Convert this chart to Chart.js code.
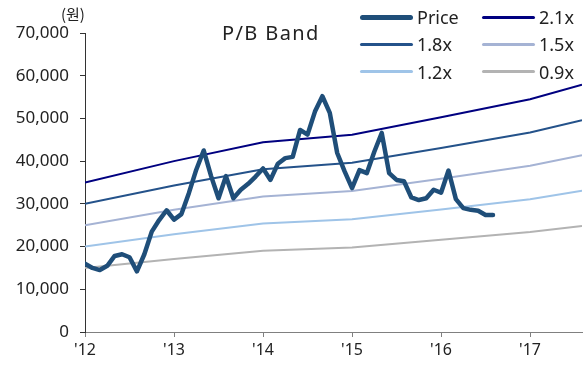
<!DOCTYPE html>
<html>
<head>
<meta charset="utf-8">
<script src="https://cdn.jsdelivr.net/npm/chart.js@4.4.1/dist/chart.umd.min.js"></script>
<style>
    body { margin: 0; background: #fff; }
    #wrap { position: relative; width: 584px; height: 365px; font-family: "Noto Sans", sans-serif; color: #222; }
    #pbChart { position: absolute; left: 0; top: 0; }
    .title { position: absolute; left: 222px; top: 19px; font-size: 20px; letter-spacing: 1.4px; }
    .unit { position: absolute; left: 61px; top: 3px; font-size: 15px; font-family: "Noto Sans CJK KR", sans-serif; }
    .legend-item { position: absolute; display: flex; align-items: center; height: 24px; font-size: 18px; }
    .legend-item span.swatch { display: inline-block; width: 53px; margin-right: 4px; border-radius: 3px; }
</style>
</head>
<body>
<div id="wrap">
    <canvas id="pbChart" width="584" height="365"></canvas>
    <div class="title">P/B Band</div>
    <div class="unit">(원)</div>
    <div id="legend"></div>
</div>
<script>
// x 축은 2012년 1월 = 0 인 월 단위
const yearTicks = ["'12", "'13", "'14", "'15", "'16", "'17"];

// 월별 주가 (2012.01 ~ 2016.08)
const priceValues = [
    16000, 15000, 14500, 15500, 17800, 18200, 17500, 14200, 18200, 23500, 26200, 28500,
    26300, 27600, 32500, 38000, 42500, 36500, 31300, 36500, 31300, 33300, 34700, 36400,
    38300, 35600, 39400, 40700, 41000, 47300, 46200, 51600, 55200, 51300, 41900, 37600,
    33700, 37900, 37200, 42200, 46600, 37200, 35600, 35300, 31500, 30900, 31300, 33300,
    32600, 37800, 31100, 29000, 28600, 28400, 27400, 27400
];

// 밴드 기준 시점 (월)
const bandMonths = [0, 12, 24, 36, 48, 60, 67];
const band21 = [35000, 40000, 44400, 46200, 50300, 54500, 57900];
const band18 = [30000, 34300, 38100, 39600, 43100, 46700, 49600];
const band15 = [25000, 28600, 31700, 33000, 35900, 38900, 41400];
const band12 = [20000, 22900, 25400, 26400, 28700, 31100, 33100];
const band09 = [15000, 17100, 19000, 19800, 21600, 23400, 24800];

const toPoints = (xs, ys) => ys.map((y, i) => ({ x: xs[i], y: y }));
const priceMonths = priceValues.map((v, i) => i);

function bandSet(label, values, color) {
    return {
        label: label,
        data: toPoints(bandMonths, values),
        borderColor: color,
        borderWidth: 2,
        pointRadius: 0,
        fill: false
    };
}

const ctx = document.getElementById('pbChart').getContext('2d');
const pbChart = new Chart(ctx, {
    type: 'line',
    data: {
        datasets: [{
            label: 'Price',
            data: toPoints(priceMonths, priceValues),
            borderColor: '#1f4e79',
            borderWidth: 4.5,
            borderJoinStyle: 'round',
            borderCapStyle: 'round',
            pointRadius: 0,
            fill: false
        },
            bandSet('2.1x', band21, '#000080'),
            bandSet('1.8x', band18, '#24528a'),
            bandSet('1.5x', band15, '#a5b3d4'),
            bandSet('1.2x', band12, '#9fc4e8'),
            bandSet('0.9x', band09, '#b3b3b3')
        ]
    },
    options: {
        responsive: false,
        animation: false,
        layout: { padding: { left: 0, right: 2, top: 33, bottom: 0 } },
        plugins: {
            legend: { display: false },
            tooltip: { enabled: false }
        },
        scales: {
            x: {
                type: 'linear',
                min: 0,
                max: 67,
                afterFit: (scale) => { scale.height = 33; },
                afterBuildTicks: (scale) => {
                    scale.ticks = yearTicks.map((t, i) => ({ value: i * 12 }));
                },
                ticks: {
                    autoSkip: false,
                    maxRotation: 0,
                    padding: 4,
                    color: '#222',
                    font: { family: 'Noto Sans', size: 16 },
                    callback: (v) => yearTicks[v / 12]
                },
                grid: { drawOnChartArea: false, tickLength: 5, color: '#808080' },
                border: { color: '#808080' }
            },
            y: {
                min: 0,
                max: 70000,
                afterFit: (scale) => { scale.width = 85; },
                ticks: {
                    stepSize: 10000,
                    padding: 11,
                    color: '#222',
                    font: { family: 'Noto Sans', size: 17 },
                    callback: (v) => v.toLocaleString('en-US')
                },
                grid: { drawOnChartArea: false, tickLength: 5, color: '#333' },
                border: { color: '#333' }
            }
        }
    }
});

// 범례 (2열)
const legend = document.getElementById('legend');
pbChart.data.datasets.forEach((ds, i) => {
    const col = i % 2;
    const row = Math.floor(i / 2);
    const item = document.createElement('div');
    item.className = 'legend-item';
    item.style.left = (360 + col * 122) + 'px';
    item.style.top = (5 + row * 27.3) + 'px';
    const sw = document.createElement('span');
    sw.className = 'swatch';
    sw.style.height = (i === 0 ? 5 : 3) + 'px';
    sw.style.background = ds.borderColor;
    const txt = document.createElement('span');
    txt.textContent = ds.label;
    item.appendChild(sw);
    item.appendChild(txt);
    legend.appendChild(item);
});
</script>
</body>
</html>
